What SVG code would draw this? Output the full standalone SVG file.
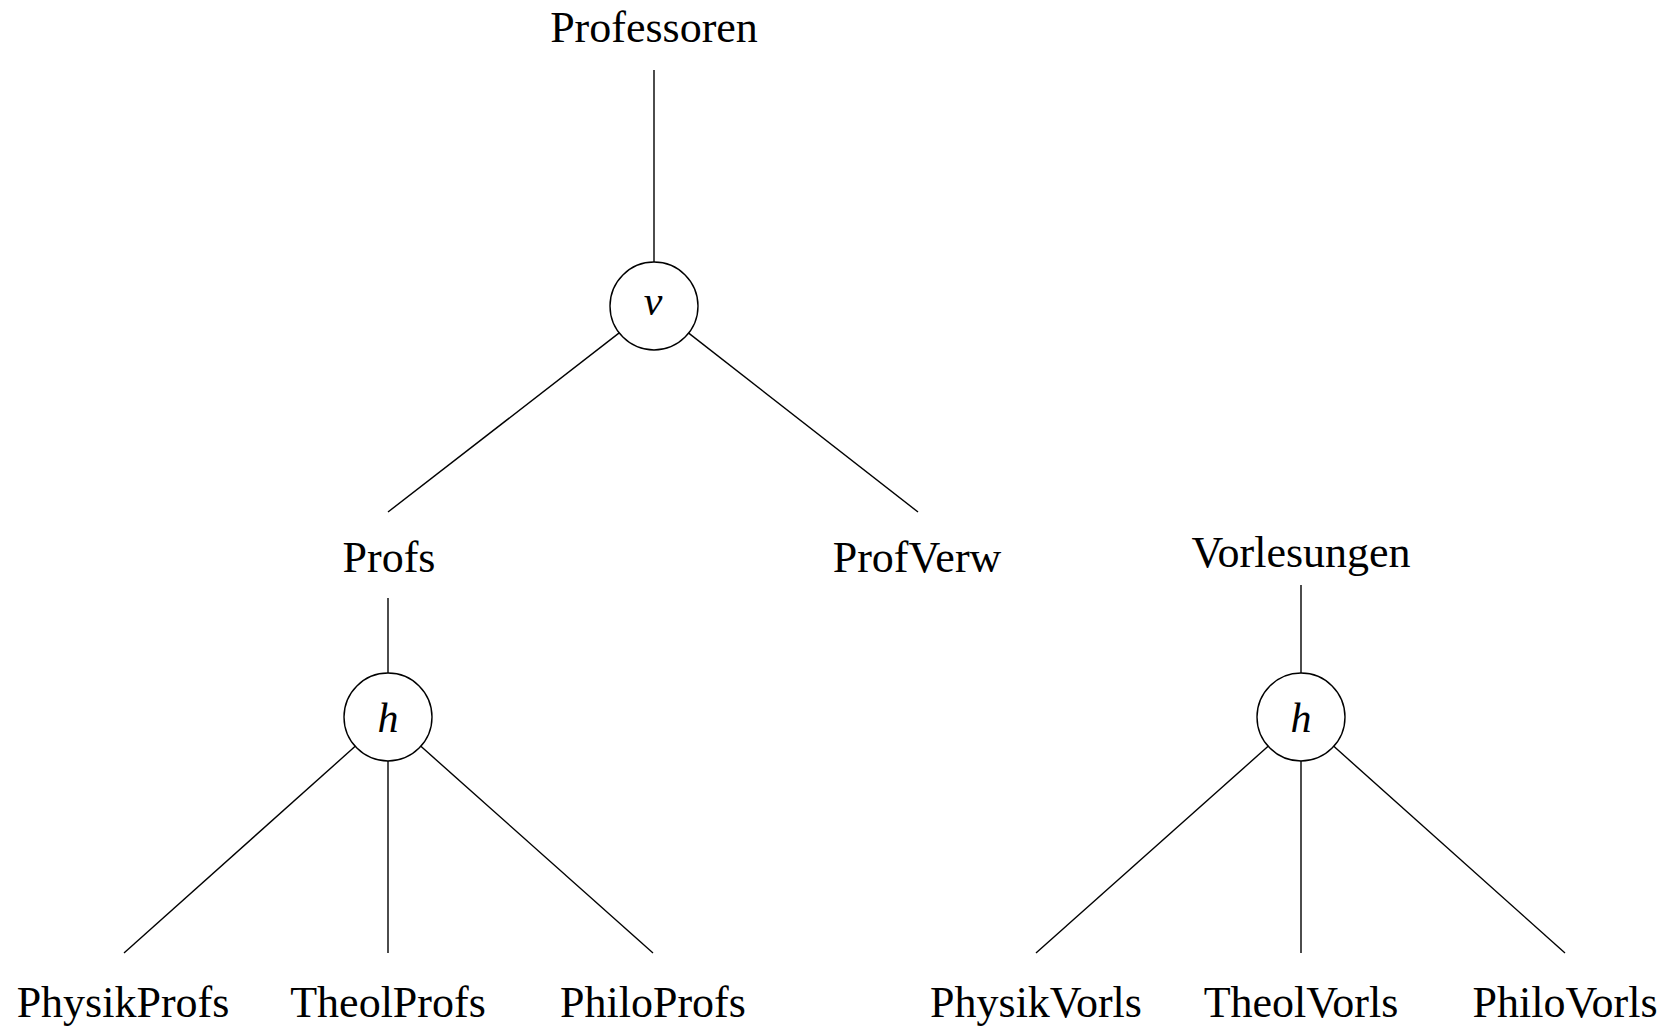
<svg xmlns="http://www.w3.org/2000/svg" width="1668" height="1026" viewBox="0 0 1668 1026">
  <style>
    .edge { stroke: #000; stroke-width: 1.4; fill: none; }
    .op { stroke: #000; stroke-width: 1.4; fill: #fff; }
    .lbl { font-family: "Liberation Serif", "DejaVu Serif", serif; font-size: 44px; fill: #000; text-anchor: middle; }
    .sym { font-family: "Liberation Serif", "DejaVu Serif", serif; font-style: italic; font-size: 42px; fill: #000; text-anchor: middle; }
  </style>
  <rect width="1668" height="1026" fill="#fff"/>

  <!-- connectors -->
  <g id="connectors">
    <line class="edge" x1="654" y1="70" x2="654" y2="262"/>
    <line class="edge" x1="619.2" y1="332.9" x2="388" y2="512"/>
    <line class="edge" x1="688.7" y1="333.1" x2="918" y2="512"/>
    <line class="edge" x1="388" y1="598" x2="388" y2="673"/>
    <line class="edge" x1="355.2" y1="746.3" x2="124" y2="953"/>
    <line class="edge" x1="388" y1="761" x2="388" y2="953"/>
    <line class="edge" x1="420.9" y1="746.3" x2="653" y2="953"/>
    <line class="edge" x1="1301" y1="585" x2="1301" y2="673"/>
    <line class="edge" x1="1268.1" y1="746.3" x2="1036" y2="953"/>
    <line class="edge" x1="1301" y1="761" x2="1301" y2="953"/>
    <line class="edge" x1="1333.8" y1="746.3" x2="1565" y2="953"/>
  </g>

  <!-- relations -->
  <g id="professoren"><text class="lbl" x="654" y="42">Professoren</text></g>
  <g id="op-v"><circle class="op" cx="654" cy="306" r="44"/><text class="sym" x="653" y="315">v</text></g>
  <g id="profs"><text class="lbl" x="389" y="572">Profs</text></g>
  <g id="profverw"><text class="lbl" x="917" y="572">ProfVerw</text></g>
  <g id="op-h-profs"><circle class="op" cx="388" cy="717" r="44"/><text class="sym" x="388" y="732">h</text></g>
  <g id="physikprofs"><text class="lbl" x="123" y="1017">PhysikProfs</text></g>
  <g id="theolprofs"><text class="lbl" x="388" y="1017">TheolProfs</text></g>
  <g id="philoprofs"><text class="lbl" x="653" y="1017">PhiloProfs</text></g>

  <g id="vorlesungen"><text class="lbl" x="1301" y="567">Vorlesungen</text></g>
  <g id="op-h-vorls"><circle class="op" cx="1301" cy="717" r="44"/><text class="sym" x="1301" y="732">h</text></g>
  <g id="physikvorls"><text class="lbl" x="1036" y="1017">PhysikVorls</text></g>
  <g id="theolvorls"><text class="lbl" x="1301" y="1017">TheolVorls</text></g>
  <g id="philovorls"><text class="lbl" x="1565" y="1017">PhiloVorls</text></g>
</svg>
